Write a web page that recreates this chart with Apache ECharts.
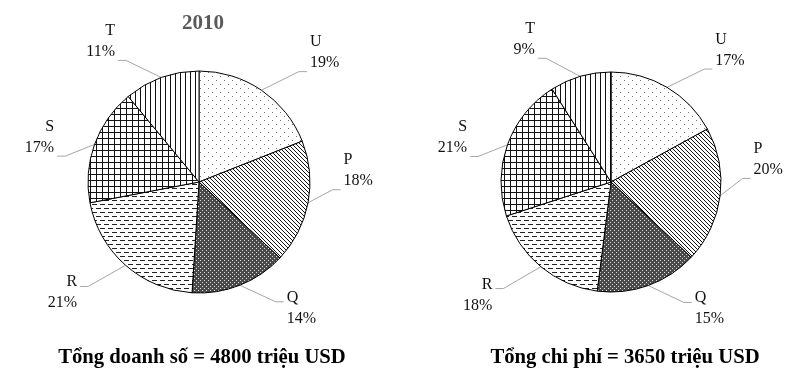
<!DOCTYPE html>
<html><head><meta charset="utf-8">
<script src="https://cdn.jsdelivr.net/npm/echarts@6/dist/echarts.min.js"></script>
<style>html,body{margin:0;padding:0;background:#fff}#c{width:807px;height:374px}</style>
</head><body><div id="c"></div>
<script>
const categories = ['U','P','Q','R','S','T'];
const sales2010 = [19, 18, 14, 21, 17, 11];
const costs2010 = [17, 20, 15, 18, 21, 9];
const chartTitle = '2010';
const caption1 = 'Tổng doanh số = 4800 triệu USD';
const caption2 = 'Tổng chi phí = 3650 triệu USD';

function mk(w, h, draw) {
  const c = document.createElement('canvas'); c.width = w; c.height = h;
  const g = c.getContext('2d'); g.fillStyle = '#fff'; g.fillRect(0,0,w,h); draw(g); return c;
}
const patterns = {
  U: mk(8, 8, g => { g.fillStyle = '#777'; g.fillRect(0,0,1,1); g.fillRect(4,4,1,1); }),
  P: mk(4, 4, g => { g.fillStyle = '#111'; for (let i=0;i<4;i++) g.fillRect(i,i,1,1); }),
  Q: mk(4, 4, g => { g.fillStyle = '#4a4a4a'; g.fillRect(0,0,4,4); g.fillStyle = '#ddd'; g.fillRect(0,0,1,1); g.fillRect(2,2,1,1); }),
  R: mk(8, 8, g => { g.fillStyle = '#222'; g.fillRect(0,0,5,1); g.fillRect(4,4,5,1); g.fillRect(0,4,1,1); }),
  S: mk(6, 6, g => { g.fillStyle = '#111'; g.fillRect(0,0,6,1); g.fillRect(0,0,1,6); }),
  T: mk(5, 5, g => { g.fillStyle = '#111'; g.fillRect(0,0,1,5); })
};
function buildData(vals) {
  return categories.map((n, i) => ({
    name: n, value: vals[i],
    itemStyle: { color: { image: patterns[n], repeat: 'repeat' } }
  }));
}
// generic label nudging (Excel-like placement): push labels near the vertical axis sideways,
// lift upper labels, and redraw the leader line to the label's near corner
function nudge(params) {
  const p = params.labelLinePoints, r = params.labelRect;
  if (!p || !r) return {};
  let ux = p[1][0] - p[0][0], uy = p[1][1] - p[0][1];
  const len = Math.hypot(ux, uy) || 1; ux /= len; uy /= len;
  const side = ux >= 0 ? 1 : -1;
  const upper = uy < 0.5;
  const a = Math.abs(uy);
  const dx = side * 40 * (a - 0.36);
  let dy;
  if (upper) dy = side > 0 ? (-45 + 39 * a) : (9 - 18 * a);
  else dy = side > 0 ? -5 : 5;
  const nx = r.x + dx, ny = r.y + dy;
  const ey = upper ? ny + r.height - 2 : ny + r.height * 0.35;
  const ex = side > 0 ? nx - 3 : nx + r.width + 3;
  const mx = ex - side * 8;
  return {
    dx: dx, dy: dy,
    labelLinePoints: [[p[0][0], p[0][1]], [mx, ey], [ex, ey]]
  };
}
const common = {
  type: 'pie', startAngle: 90, clockwise: true, radius: 111,
  animation: false,
  itemStyle: { borderColor: '#000', borderWidth: 1 },
  label: { show: true, formatter: '{b}\n{d}%', fontFamily: 'Liberation Serif', fontSize: 16, color: '#111', lineHeight: 21, align: 'center' },
  labelLine: { show: true, length: 30, length2: 8, lineStyle: { color: '#a6a6a6', width: 1 } },
  labelLayout: nudge,
  emphasis: { disabled: true }
};
const chart = echarts.init(document.getElementById('c'), null, { renderer: 'canvas' });
chart.setOption({
  backgroundColor: '#fff',
  graphic: [
    { type: 'text', x: 203, y: 24, style: { text: chartTitle, font: 'bold 21px "Liberation Serif"', fill: '#595959', align: 'center', verticalAlign: 'middle' } },
    { type: 'text', x: 202, y: 357, scaleX: 0.94, style: { text: caption1, font: 'bold 22px "Liberation Serif"', fill: '#000', align: 'center', verticalAlign: 'middle' } },
    { type: 'text', x: 625, y: 357, scaleX: 0.94, style: { text: caption2, font: 'bold 22px "Liberation Serif"', fill: '#000', align: 'center', verticalAlign: 'middle' } }
  ],
  series: [
    Object.assign({}, common, { center: [199, 182], data: buildData(sales2010) }),
    Object.assign({}, common, { center: [611, 182], radius: 110, data: buildData(costs2010) })
  ]
});
</script></body></html>
